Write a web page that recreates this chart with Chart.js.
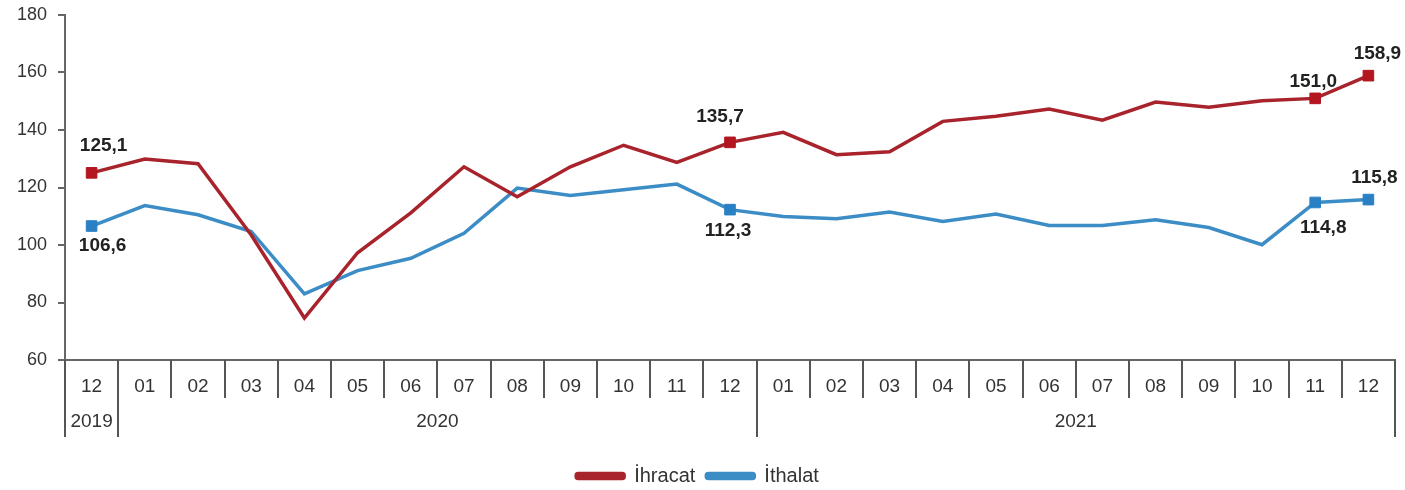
<!DOCTYPE html>
<html>
<head>
<meta charset="utf-8">
<script src="https://cdn.jsdelivr.net/npm/chart.js@4.4.1/dist/chart.umd.min.js"></script>
<style>
html,body{margin:0;padding:0;background:#fff;}
#wrap{width:1405px;height:490px;}
</style>
</head>
<body>
<div id="wrap"><canvas id="c" width="1405" height="490"></canvas></div>
<script>
const months = ['12','01','02','03','04','05','06','07','08','09','10','11','12','01','02','03','04','05','06','07','08','09','10','11','12'];
const years = ['2019','2020','2021'];
const yearStart = [0, 1, 13];
const yearEnd = [0, 12, 24];
const ihracat = [125.1,129.9,128.3,103.5,74.6,97.3,111.2,127.2,116.8,127.2,134.7,128.7,135.7,139.2,131.4,132.4,143.0,144.8,147.3,143.4,149.7,147.9,150.2,151.0,158.9];
const ithalat = [106.6,113.7,110.5,104.7,83.0,91.1,95.4,104.1,119.8,117.2,119.2,121.2,112.3,109.9,109.1,111.5,108.2,110.8,106.8,106.8,108.8,106.1,100.1,114.8,115.8];
const labeledIdx = [0, 12, 23, 24];
const yTicks = [60, 80, 100, 120, 140, 160, 180];

const FONT = "'Liberation Sans', Arial, sans-serif";
const RED = '#A8232B', RED_PT = '#B3161F';
const BLUE = '#3C8DC6', BLUE_PT = '#2A80C4';

// label offsets (style): [dx, dy] relative to point
const labelOffsets = {
  0: {0: [12, -27], 12: [-10, -26], 23: [-2, -17], 24: [9, -22]},
  1: {0: [11, 20], 12: [-2, 21], 23: [8, 25], 24: [6, -22]}
};

const ptRadius = months.map((m, i) => labeledIdx.includes(i) ? 7.5 : 0);

const sepPlugin = {
  id: 'sep',
  afterDraw(chart) {
    const ctx = chart.ctx;
    const xs = chart.scales.x;
    const bottom = chart.chartArea.bottom;
    ctx.save();
    ctx.strokeStyle = '#555';
    ctx.lineWidth = 2;
    const yearBounds = new Set();
    yearStart.forEach(s => yearBounds.add(s));
    yearBounds.add(months.length);
    for (let i = 0; i <= months.length; i++) {
      const x = Math.round(xs.getPixelForValue(i - 0.5));
      const long = yearBounds.has(i);
      ctx.beginPath();
      ctx.moveTo(x, bottom);
      ctx.lineTo(x, bottom + (long ? 77 : 38));
      ctx.stroke();
    }
    ctx.fillStyle = '#333';
    ctx.font = '19px ' + FONT;
    ctx.textAlign = 'center';
    ctx.textBaseline = 'middle';
    years.forEach((y, k) => {
      const x = (xs.getPixelForValue(yearStart[k]) + xs.getPixelForValue(yearEnd[k])) / 2;
      ctx.fillText(y, x, bottom + 62);
    });
    ctx.restore();
  }
};

const labelPlugin = {
  id: 'vlabels',
  afterDatasetsDraw(chart) {
    const ctx = chart.ctx;
    ctx.save();
    ctx.font = 'bold 19px ' + FONT;
    ctx.fillStyle = '#222';
    ctx.textAlign = 'center';
    ctx.textBaseline = 'middle';
    chart.data.datasets.forEach((ds, d) => {
      const meta = chart.getDatasetMeta(d);
      labeledIdx.forEach(i => {
        const pt = meta.data[i];
        const off = labelOffsets[d][i];
        const txt = ds.data[i].toFixed(1).replace('.', ',');
        ctx.fillText(txt, pt.x + off[0], pt.y + off[1]);
      });
    });
    ctx.restore();
  }
};

new Chart(document.getElementById('c'), {
  type: 'line',
  data: {
    labels: months,
    datasets: [
      {label: 'İhracat', data: ihracat, borderColor: RED, backgroundColor: RED, borderWidth: 3.5,
       pointStyle: 'rect', pointRadius: ptRadius, pointBackgroundColor: RED_PT, pointBorderColor: RED_PT, pointBorderWidth: 1, tension: 0},
      {label: 'İthalat', data: ithalat, borderColor: BLUE, backgroundColor: BLUE, borderWidth: 3.5,
       pointStyle: 'rect', pointRadius: ptRadius, pointBackgroundColor: BLUE_PT, pointBorderColor: BLUE_PT, pointBorderWidth: 1, tension: 0}
    ]
  },
  options: {
    responsive: false,
    animation: false,
    layout: {padding: {top: 15, right: 10, left: 0, bottom: -6}},
    plugins: {
      legend: {
        position: 'bottom',
        labels: {
          font: {family: FONT, size: 20},
          color: '#333',
          boxWidth: 48,
          boxHeight: 5,
          padding: 11,
          useBorderRadius: true,
          borderRadius: 2
        }
      },
      tooltip: {enabled: false}
    },
    scales: {
      x: {
        offset: true,
        grid: {display: true, drawOnChartArea: false, drawTicks: false},
        border: {display: true, color: '#666', width: 2},
        ticks: {font: {family: FONT, size: 19}, color: '#333', padding: 15, maxRotation: 0, autoSkip: false},
        afterFit(s) { s.height = 95; }
      },
      y: {
        min: 60, max: 180,
        afterBuildTicks(s) { s.ticks = yTicks.map(v => ({value: v})); },
        grid: {display: true, drawOnChartArea: false, drawTicks: true, tickLength: 7, color: '#666', lineWidth: 2},
        border: {display: true, color: '#666', width: 2},
        ticks: {font: {family: FONT, size: 18}, color: '#333', padding: 11},
        afterFit(s) { s.width = 65; s.paddingTop = 10; s.paddingBottom = 10; }
      }
    }
  },
  plugins: [sepPlugin, labelPlugin]
});
</script>
</body>
</html>
